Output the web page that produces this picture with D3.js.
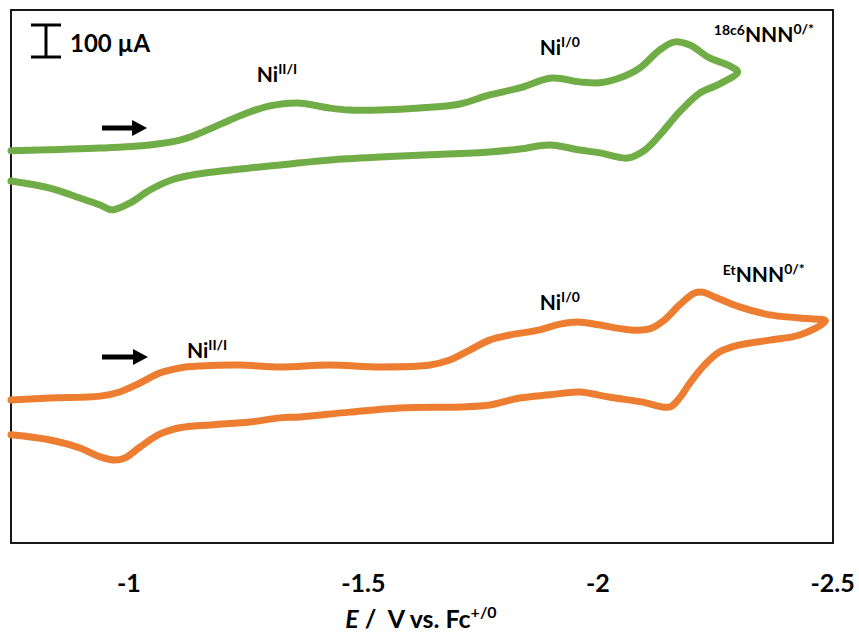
<!DOCTYPE html>
<html>
<head>
<meta charset="utf-8">
<script src="https://cdn.jsdelivr.net/npm/d3@7"></script>
<style>
  body { margin: 0; background: #fff; }
  text { font-family: Lato, "Open Sans", sans-serif; font-weight: bold; fill: #000; }
</style>
</head>
<body>
<svg id="chart" width="859" height="637"></svg>
<script>
// potential (V vs Fc+/0) and current (µA, traces offset for display)
const green_E = [-0.750, -0.854, -0.940, -1.046, -1.110, -1.153, -1.217, -1.259, -1.302, -1.361,
  -1.430, -1.472, -1.536, -1.621, -1.707, -1.770, -1.834, -1.903, -1.962, -2.005,
  -2.047, -2.090, -2.133, -2.165, -2.197, -2.239, -2.282, -2.299,
  -2.260, -2.218, -2.175, -2.133, -2.101, -2.064, -2.005, -1.962, -1.898, -1.834,
  -1.770, -1.643, -1.536, -1.430, -1.366, -1.323, -1.259, -1.153, -1.095, -1.046,
  -1.004, -0.965, -0.940, -0.897, -0.833, -0.750];
const green_I = [1226, 1230, 1234, 1244, 1259, 1281, 1322, 1347, 1366, 1375,
  1359, 1353, 1353, 1359, 1372, 1400, 1422, 1453, 1441, 1438,
  1453, 1484, 1541, 1566, 1556, 1516, 1491, 1472,
  1434, 1406, 1347, 1275, 1228, 1203, 1219, 1228, 1244, 1231,
  1222, 1213, 1206, 1197, 1188, 1181, 1172, 1154, 1136, 1103,
  1063, 1041, 1056, 1078, 1109, 1131];

const orange_E = [-0.750, -0.833, -0.940, -0.982, -1.025, -1.067, -1.110, -1.153, -1.238, -1.323,
  -1.430, -1.536, -1.643, -1.685, -1.728, -1.770, -1.813, -1.877, -1.920, -1.958,
  -2.005, -2.069, -2.111, -2.143, -2.175, -2.207, -2.224, -2.250, -2.303, -2.367,
  -2.431, -2.486,
  -2.431, -2.367, -2.303, -2.260, -2.228, -2.197, -2.175, -2.154, -2.094, -2.024,
  -1.962, -1.898, -1.834, -1.770, -1.707, -1.579, -1.472, -1.366, -1.323, -1.259,
  -1.174, -1.110, -1.067, -1.025, -0.993, -0.972, -0.940, -0.897, -0.833, -0.750];
const orange_I = [447, 453, 459, 472, 500, 531, 547, 553, 556, 550,
  556, 550, 556, 572, 603, 634, 650, 666, 684, 691,
  681, 666, 669, 697, 744, 781, 784, 769, 738, 713,
  703, 694,
  650, 634, 619, 597, 556, 500, 453, 425, 441, 456,
  472, 463, 453, 431, 425, 422, 409, 394, 391, 378,
  369, 360, 340, 300, 266, 259, 269, 297, 322, 338];

const xTicks = [-1, -1.5, -2, -2.5];
const scaleBarValue = 100; // µA

// annotation anchors in data units (E, I)
const labels = [
  { E: -1.274, I: 1441, pre: "", main: "Ni", sup: "II/I" },
  { E: -1.877, I: 1525, pre: "", main: "Ni", sup: "I/0" },
  { E: -2.248, I: 1566, pre: "18c6", main: "NNN", sup: "0/*" },
  { E: -1.125, I: 578, pre: "", main: "Ni", sup: "II/I" },
  { E: -1.877, I: 728, pre: "", main: "Ni", sup: "I/0" },
  { E: -2.267, I: 816, pre: "Et", main: "NNN", sup: "0/*" }
];
const arrows = [
  { E0: -0.944, E1: -1.040, I: 1297 },
  { E0: -0.944, E1: -1.042, I: 581 }
];

const svg = d3.select("#chart");
const pLeft = 11, pRight = 832, pTop = 10, pBottom = 543;

const x = d3.scaleLinear().domain([-0.75, -2.5]).range([pLeft, pRight]);
const y = d3.scaleLinear().domain([0, 1665.6]).range([pBottom, pTop]);

// frame
svg.append("rect")
  .attr("x", pLeft).attr("y", pTop)
  .attr("width", pRight - pLeft + 1).attr("height", pBottom - pTop)
  .attr("fill", "none").attr("stroke", "#000").attr("stroke-width", 1.8);

// x axis labels
const xAxis = d3.axisBottom(x).tickValues(xTicks).tickSize(0).tickFormat(d => d);
const gx = svg.append("g").attr("transform", `translate(0,${pBottom})`).call(xAxis);
gx.select(".domain").remove();
gx.selectAll("text")
  .attr("y", 49).attr("dy", 0)
  .style("font-size", "25px")
  .style("font-family", "Lato, 'Open Sans', sans-serif")
  .style("font-weight", "bold");

// axis title
const title = svg.append("text")
  .attr("x", 421).attr("y", 628)
  .attr("text-anchor", "middle")
  .style("font-size", "25px");
title.append("tspan").style("font-style", "italic").text("E");
title.append("tspan").text("\u00a0/\u00a0\u00a0V vs. Fc");
title.append("tspan").attr("dy", -10).style("font-size", "16px").text("+/0");

// traces
const line = d3.line()
  .x(d => x(d[0]))
  .y(d => y(d[1]))
  .curve(d3.curveCatmullRom.alpha(0.5));

const traces = [
  { E: green_E, I: green_I, color: "#70AD47" },
  { E: orange_E, I: orange_I, color: "#ED7D31" }
];
svg.selectAll("path.trace")
  .data(traces)
  .join("path")
  .attr("class", "trace")
  .attr("d", t => line(t.E.map((e, i) => [e, t.I[i]])))
  .attr("fill", "none")
  .attr("stroke", t => t.color)
  .attr("stroke-width", 7)
  .attr("stroke-linejoin", "round")
  .attr("stroke-linecap", "round");

// scale bar
const barTop = 25;
const barLen = y(0) - y(scaleBarValue);
const bx = 46;
const bar = svg.append("g").attr("stroke", "#000").attr("stroke-width", 3);
bar.append("line").attr("x1", bx).attr("x2", bx).attr("y1", barTop).attr("y2", barTop + barLen);
bar.append("line").attr("x1", bx - 15).attr("x2", bx + 15).attr("y1", barTop).attr("y2", barTop);
bar.append("line").attr("x1", bx - 15).attr("x2", bx + 15).attr("y1", barTop + barLen).attr("y2", barTop + barLen);
svg.append("text").attr("x", 70).attr("y", 52).style("font-size", "24px").text(scaleBarValue + " µA");

// annotations
labels.forEach(l => {
  const t = svg.append("text")
    .attr("x", x(l.E)).attr("y", y(l.I))
    .style("font-size", "21px");
  if (l.pre) {
    t.append("tspan").attr("dy", -7).style("font-size", "14px").text(l.pre);
    t.append("tspan").attr("dy", 7).text(l.main);
  } else {
    t.append("tspan").text(l.main);
  }
  t.append("tspan").attr("dy", -8).style("font-size", "14px").text(l.sup);
});

// sweep direction arrows
arrows.forEach(a => {
  const x0 = x(a.E0), x1 = x(a.E1), yy = y(a.I);
  svg.append("line")
    .attr("x1", x0).attr("x2", x1 - 12)
    .attr("y1", yy).attr("y2", yy)
    .attr("stroke", "#000").attr("stroke-width", 5);
  svg.append("path")
    .attr("d", `M${x1},${yy} L${x1 - 15},${yy - 8} L${x1 - 15},${yy + 8} Z`)
    .attr("fill", "#000");
});
</script>
</body>
</html>
